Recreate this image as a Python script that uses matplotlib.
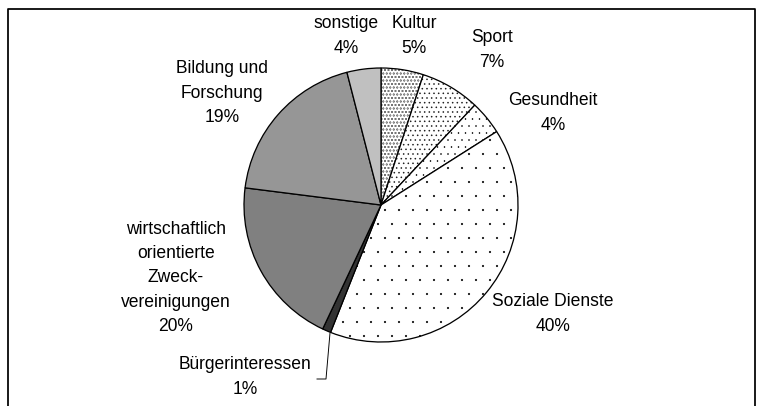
import matplotlib.pyplot as plt
import matplotlib.hatch as mhatch
from matplotlib.lines import Line2D

# ================================
# Data (shares in percent, clockwise from 12 o'clock)
# ================================
categories = ["Kultur", "Sport", "Gesundheit", "Soziale Dienste", "Bürgerinteressen",
              "wirtschaftlich\norientierte\nZweck-\nvereinigungen",
              "Bildung und\nForschung", "sonstige"]
shares = [5, 7, 4, 40, 1, 20, 19, 4]

# ================================
# Styling
# ================================
face_colors = ["white", "white", "white", "white", "#333333", "#808080", "#969696", "#c0c0c0"]
hatches = ["....", "...", "..", ".", "", "", "", ""]
hatch_lw = [1.3, 0.9, 0.6, 0.4, 0.5, 0.5, 0.5, 0.5]
# label centres in image pixels (x, y from top)
label_pos = [(414, 36), (492, 50), (553, 113), (553, 314), (245, 377),
             (176, 278), (222, 93), (346, 36)]

W, H = 764, 406
DPI = 84
plt.rcParams["font.family"] = ["Liberation Sans", "DejaVu Sans"]
plt.rcParams["hatch.linewidth"] = 0.5
# smaller dots than matplotlib's default '.' hatch
mhatch.SmallFilledCircles.size = 0.06

fig = plt.figure(figsize=(W / DPI, H / DPI), dpi=DPI)
ax = fig.add_axes([0, 0, 1, 1])

wedges, _ = ax.pie(shares, center=(381, H - 205), radius=137, startangle=90,
                   counterclock=False, colors=face_colors,
                   wedgeprops=dict(edgecolor="black", linewidth=1.1))
for w, h, lw in zip(wedges, hatches, hatch_lw):
    w.set_hatch(h)
    if hasattr(w, "set_hatch_linewidth"):
        w.set_hatch_linewidth(lw)
    else:
        w._hatch_linewidth = lw

# pie() resets the limits, so set the pixel frame afterwards
ax.set_xlim(0, W)
ax.set_ylim(0, H)
ax.set_aspect("equal")
ax.axis("off")

for cat, val, (x, y) in zip(categories, shares, label_pos):
    ax.text(x, H - y, f"{cat}\n{val}%", ha="center", va="center",
            fontsize=15, linespacing=1.55, multialignment="center")

# leader line for the tiny slice
ax.plot([330, 326, 317], [H - 333, H - 379, H - 379], color="black", linewidth=0.8)

# outer frame (open at the bottom)
fig.add_artist(Line2D([7.5 / W, 7.5 / W, 754.5 / W, 754.5 / W],
                      [0, 1 - 9 / H, 1 - 9 / H, 0], color="black", linewidth=1.5))

fig.savefig("out.png", dpi=DPI)
